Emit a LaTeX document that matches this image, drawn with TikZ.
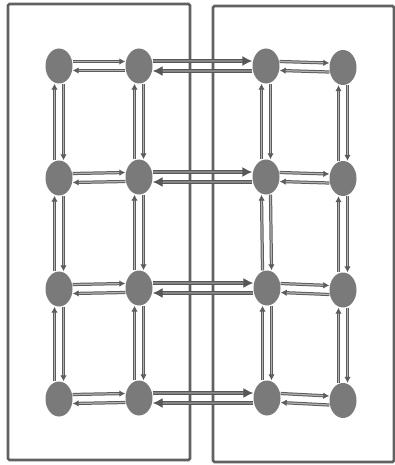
\documentclass[tikz,border=0pt]{standalone}
\usepackage{tikz}
\usetikzlibrary{arrows.meta,shapes.geometric}

\begin{document}
\begin{tikzpicture}[
  x=1pt, y=-1pt,
  site/.style={ellipse, fill=black!52, minimum width=27pt, minimum height=35pt, inner sep=0pt},
  part/.style={draw=black!62, line width=2.6pt, rounded corners=1.5pt},
  link/.style={-{Latex[length=6pt,width=6.5pt]}, draw=black!64, double=black!30, line width=1pt, double distance=1.2pt},
  bridge/.style={-{Latex[length=10pt,width=10pt]}, draw=black!66, double=black!48, line width=1.4pt, double distance=1.6pt}
]
\useasboundingbox (0,0) rectangle (395,465);

% the two partitions
\draw[part] (8,4) rectangle (190,460);
\draw[part] (213,6) rectangle (394,462);

% grid of sites, row r, column c
\node[site] (r1c1) at (59,66) {};
\node[site] (r1c2) at (139,66) {};
\node[site] (r1c3) at (266,66) {};
\node[site] (r1c4) at (343,67.5) {};

\node[site] (r2c1) at (59,178) {};
\node[site] (r2c2) at (139,177) {};
\node[site] (r2c3) at (266,177) {};
\node[site] (r2c4) at (343,178.5) {};

\node[site] (r3c1) at (59,289) {};
\node[site] (r3c2) at (139,288) {};
\node[site] (r3c3) at (267,288) {};
\node[site] (r3c4) at (343,290) {};

\node[site] (r4c1) at (59,399) {};
\node[site] (r4c2) at (139,398) {};
\node[site] (r4c3) at (267,398) {};
\node[site] (r4c4) at (343,400.5) {};

% links inside each partition
\foreach \r in {1,...,4} {
  \foreach \a/\b in {1/2,3/4} {
    \draw[link] ([yshift=4.5pt]r\r c\a.east) -- ([yshift=4.5pt]r\r c\b.west);
    \draw[link] ([yshift=-4.5pt]r\r c\b.west) -- ([yshift=-4.5pt]r\r c\a.east);
  }
  % links across the cut
  \draw[bridge] ([yshift=5pt]r\r c2.east) -- ([yshift=5pt]r\r c3.west);
  \draw[bridge] ([yshift=-5pt]r\r c3.west) -- ([yshift=-5pt]r\r c2.east);
}

% up on the left, down on the right
\foreach \c in {1,...,4} {
  \foreach \a/\b in {1/2,2/3,3/4} {
    \draw[link] ([xshift=-4.5pt]r\b c\c.north) -- ([xshift=-4.5pt]r\a c\c.south);
    \draw[link] ([xshift=4.5pt]r\a c\c.south) -- ([xshift=4.5pt]r\b c\c.north);
  }
}

\end{tikzpicture}
\end{document}
